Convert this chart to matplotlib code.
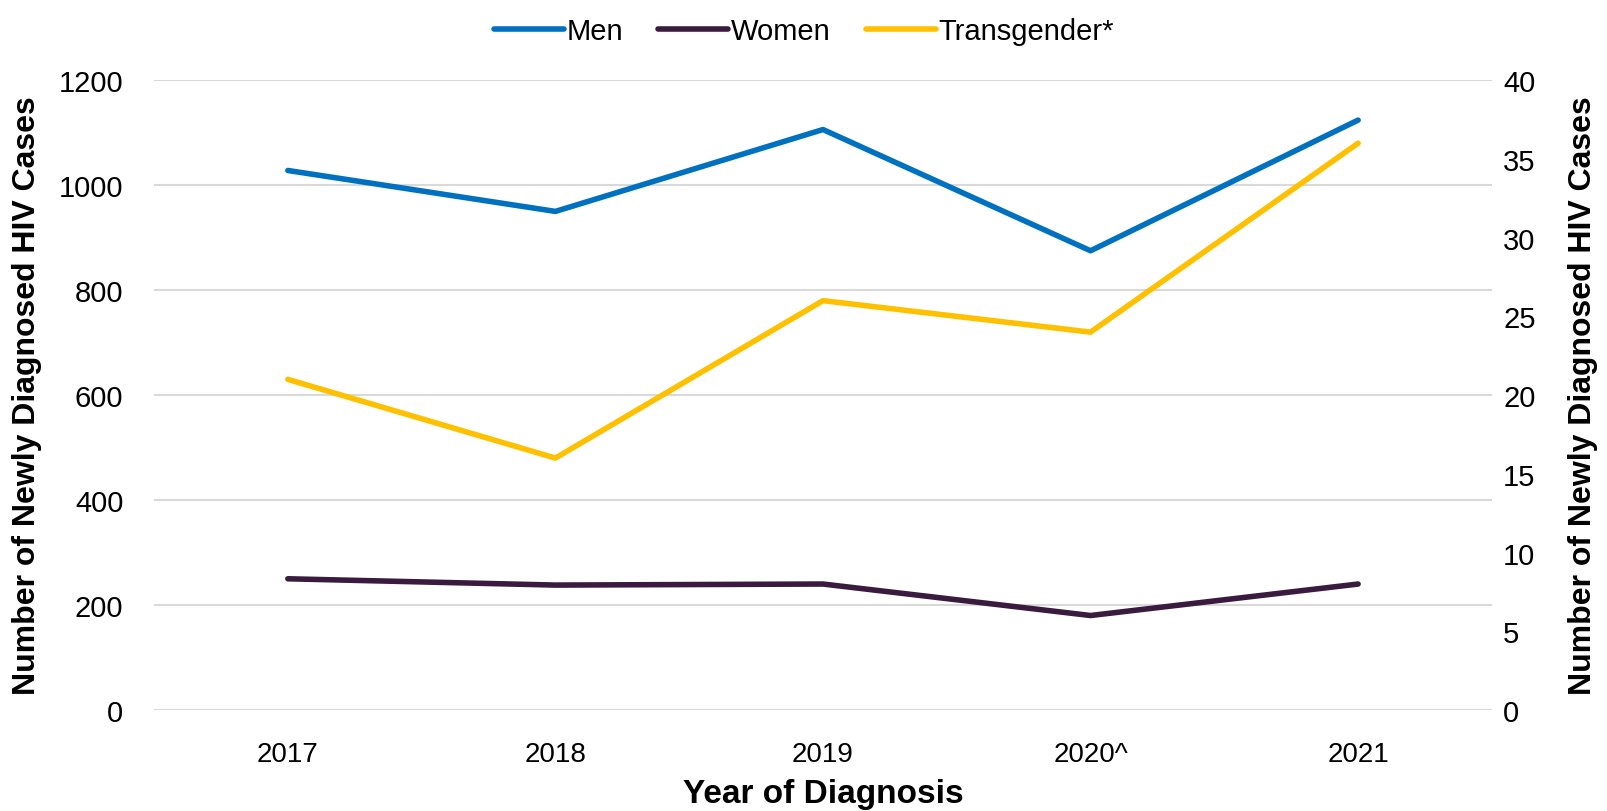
import matplotlib
matplotlib.use("Agg")
import matplotlib.pyplot as plt

years = ["2017", "2018", "2019", "2020^", "2021"]
men = [1028, 950, 1106, 875, 1124]
women = [250, 238, 240, 180, 240]
transgender = [21, 16, 26, 24, 36]

plt.rcParams["font.family"] = ["Liberation Sans", "DejaVu Sans"]

fig = plt.figure(figsize=(16.08, 8.12), dpi=100)
ax = fig.add_axes([0.0958, 0.1244, 0.832, 0.7756])
ax2 = ax.twinx()

x = range(len(years))
l1, = ax.plot(x, men, color="#0070C0", lw=4, label="Men", solid_capstyle="round")
l2, = ax.plot(x, women, color="#3B1A40", lw=4, label="Women", solid_capstyle="round")
l3, = ax2.plot(x, transgender, color="#FFC000", lw=4, label="Transgender*", solid_capstyle="round")

ax.set_xlim(-0.5, 4.5)
ax.set_ylim(0, 1200)
ax.set_yticks(range(0, 1201, 200))
ax2.set_ylim(0, 40)
ax2.set_yticks(range(0, 41, 5))
ax.set_xticks(list(x))
ax.set_xticklabels(years)

ax.grid(axis="y", color="#D9D9D9", lw=1.5)
ax.set_axisbelow(True)
for a in (ax, ax2):
    for s in a.spines.values():
        s.set_visible(False)
    a.tick_params(length=0, labelsize=21, pad=12)
ax.tick_params(axis="y", pad=22)
ax2.tick_params(axis="y", pad=8)
ax.tick_params(axis="x", labelsize=20, pad=22)

ax.set_xlabel("Year of Diagnosis", fontsize=24, fontweight="bold", labelpad=8)
ax.set_ylabel("Number of Newly Diagnosed HIV Cases", fontsize=23, fontweight="bold")
ax.yaxis.set_label_coords(-0.084, 0.5)
ax2.set_ylabel("Number of Newly Diagnosed HIV Cases", fontsize=23, fontweight="bold", rotation=90)
ax2.yaxis.set_label_coords(1.057, 0.5)

fig.legend(handles=[l1, l2, l3], loc="upper center", bbox_to_anchor=(0.5, 1.01), ncol=3, frameon=False,
           prop={"size": 21}, handlelength=2.4, handletextpad=0.1, columnspacing=1.2)

fig.savefig("out.png", dpi=100)
